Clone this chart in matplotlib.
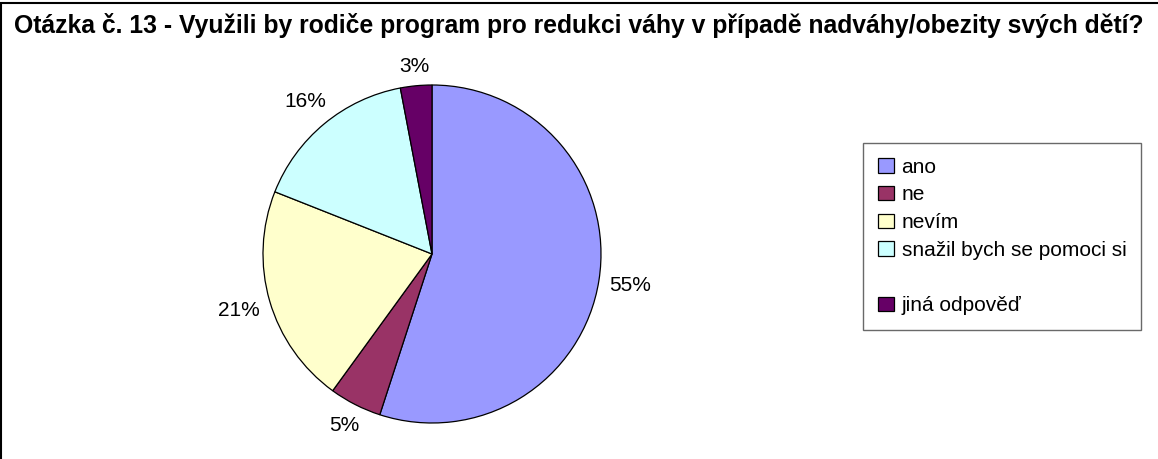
import numpy as np
import matplotlib.pyplot as plt
from matplotlib.patches import Rectangle

plt.rcParams['font.family'] = ['Liberation Sans', 'DejaVu Sans']

# answers and shares (%)
labels = ['ano', 'ne', 'nevím', 'snažil bych se pomoci si', 'jiná odpověď']
values = [55, 5, 21, 16, 3]
colors = ['#9999FF', '#993366', '#FFFFCC', '#CCFFFF', '#660066']
title = 'Otázka č. 13 - Využili by rodiče program pro redukci váhy v případě nadváhy/obezity svých dětí?'

W, H = 1158, 459
fig = plt.figure(figsize=(W / 100, H / 100), dpi=100)

# pie centre ~ (432, 254) px, radius ~169 px
r_px = 169
lim = 1.25
side = 2 * lim * r_px
cx, cy = 432, 254
ax = fig.add_axes([(cx - side / 2) / W, (H - cy - side / 2) / H, side / W, side / H])

wedges, texts, autotexts = ax.pie(values, colors=colors, startangle=90, counterclock=False,
                                  autopct='%.0f%%', pctdistance=1.15,
                                  wedgeprops=dict(edgecolor='black', linewidth=0.9),
                                  textprops=dict(fontsize=15, color='black'))
ax.set_xlim(-lim, lim)
ax.set_ylim(-lim, lim)
ax.axis('off')

# put each label just outside the rim, like Excel does (box edge at a fixed gap)
fig.canvas.draw()
renderer = fig.canvas.get_renderer()
gap = 10
for w, t in zip(wedges, autotexts):
    ang = np.deg2rad((w.theta1 + w.theta2) / 2)
    ux, uy = np.cos(ang), np.sin(ang)
    bb = t.get_window_extent(renderer)
    hw, hh = bb.width / 2, bb.height / 2 * 0.8
    d = (r_px + gap + abs(ux) * hw + abs(uy) * hh) / r_px
    t.set_position((d * ux, d * uy))
    t.set_ha('center')
    t.set_va('center')

# legend with an empty row before the last entry (as in the original)
blank = Rectangle((0, 0), 1, 1, fill=False, edgecolor='none')
handles = wedges[:4] + [blank] + wedges[4:]
leg_labels = labels[:4] + [''] + labels[4:]
leg = fig.legend(handles, leg_labels, loc='upper left',
                 bbox_to_anchor=(863 / W, 1 - 143 / H), borderaxespad=0,
                 fontsize=15, frameon=True, fancybox=False, edgecolor='#444444',
                 handlelength=0.77, handleheight=0.7, handletextpad=0.38,
                 labelspacing=0.42, borderpad=0.7)
leg.get_frame().set_linewidth(1.0)

fig.text(0.5, 1 - 26 / H, title, ha='center', va='center',
         fontsize=17.8, fontweight='bold')

# outer frame (left + top edges visible)
fig.patches.append(Rectangle((0.5 / W, -0.1), 1.2, 1.1 - 3 / H, transform=fig.transFigure,
                             fill=False, edgecolor='black', linewidth=1.5))

fig.savefig('out.png', dpi=100)
